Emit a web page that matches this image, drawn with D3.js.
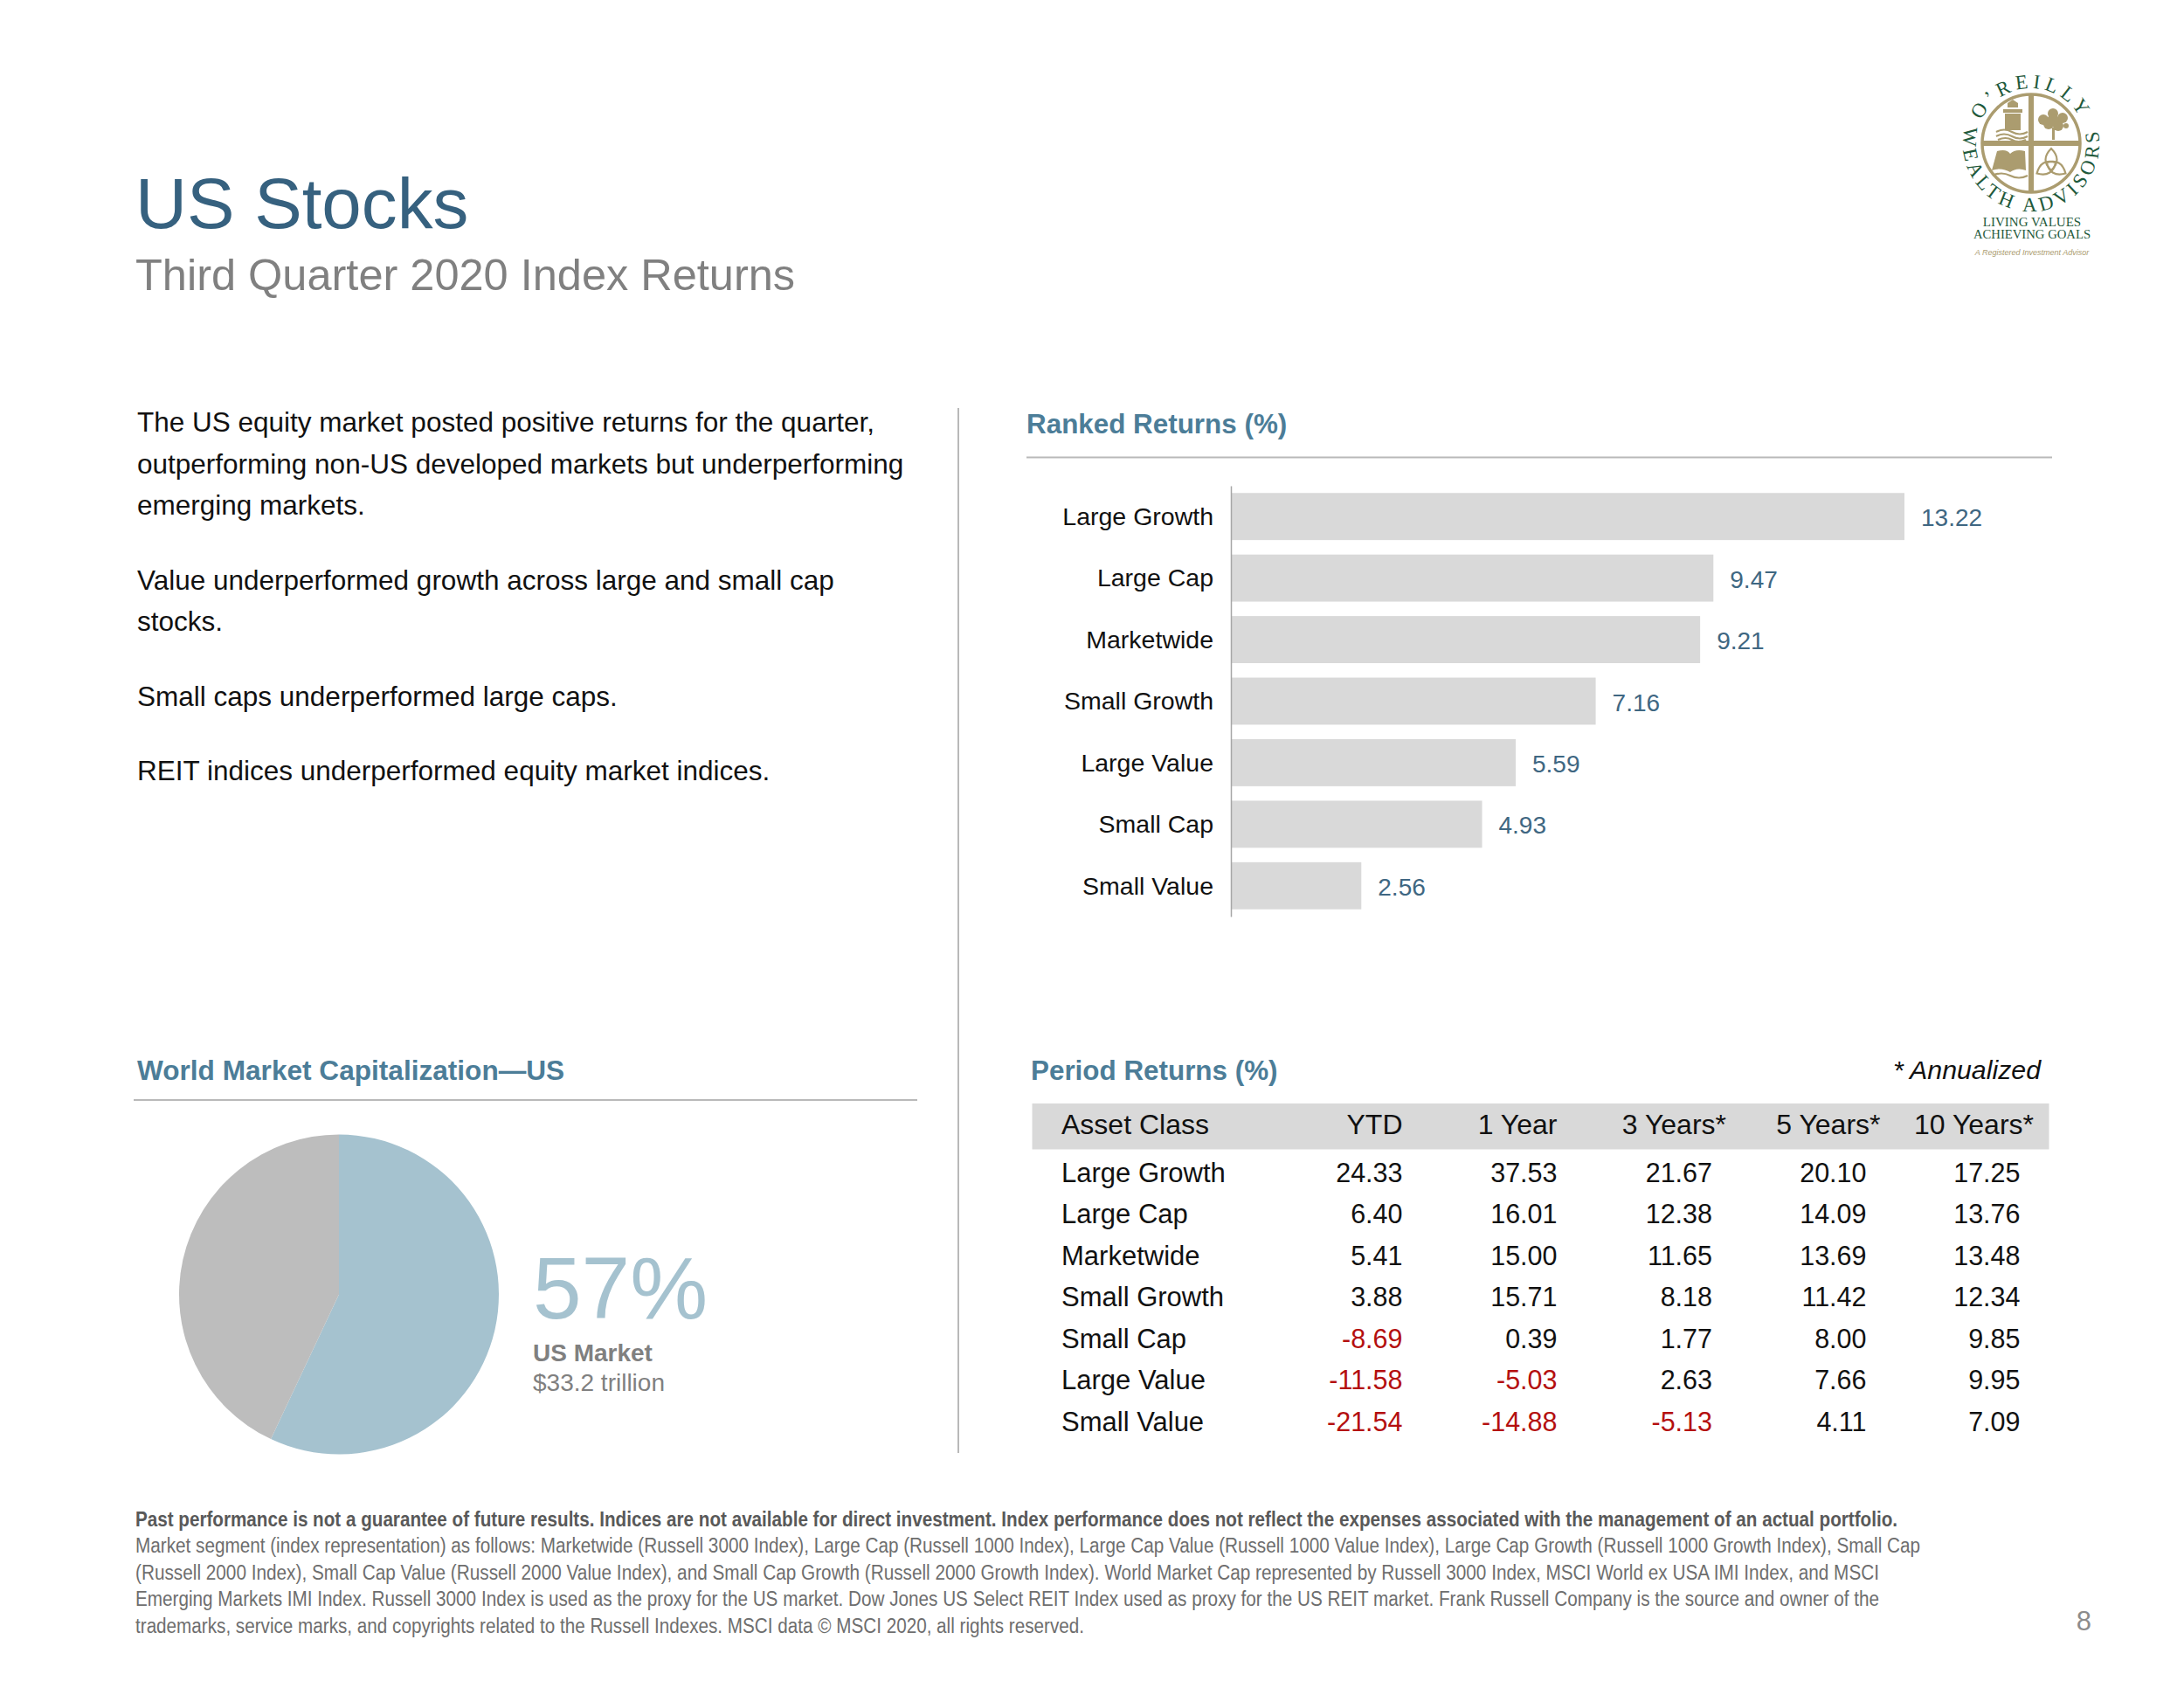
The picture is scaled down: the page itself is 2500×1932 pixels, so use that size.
<!DOCTYPE html>
<html>
<head>
<meta charset="utf-8">
<title>US Stocks</title>
<script src="https://cdn.jsdelivr.net/npm/d3@7"></script>
<style>
html, body { margin: 0; padding: 0; background: #fff; }
svg { display: block; }
text { font-family: "Liberation Sans", Arial, sans-serif; }
</style>
</head>
<body>
<div id="chart"></div>
<script>
// ranked bars
var ranked_labels = ["Large Growth", "Large Cap", "Marketwide", "Small Growth", "Large Value", "Small Cap", "Small Value"];
var ranked_values = [13.22, 9.47, 9.21, 7.16, 5.59, 4.93, 2.56];

// period table
var table_headers = ["YTD", "1 Year", "3 Years*", "5 Years*", "10 Years*"];
var table_rows = ["Large Growth", "Large Cap", "Marketwide", "Small Growth", "Small Cap", "Large Value", "Small Value"];
var ytd_values = ["24.33", "6.40", "5.41", "3.88", "-8.69", "-11.58", "-21.54"];
var one_year_values = ["37.53", "16.01", "15.00", "15.71", "0.39", "-5.03", "-14.88"];
var three_year_values = ["21.67", "12.38", "11.65", "8.18", "1.77", "2.63", "-5.13"];
var five_year_values = ["20.10", "14.09", "13.69", "11.42", "8.00", "7.66", "4.11"];
var ten_year_values = ["17.25", "13.76", "13.48", "12.34", "9.85", "9.95", "7.09"];

// pie
var pie_labels = ["US Market", "Rest of World"];
var pie_values = [57, 43];

var body_lines = [
  ["The US equity market posted positive returns for the quarter,", 494],
  ["outperforming non-US developed markets but underperforming", 541.5],
  ["emerging markets.", 589],
  ["Value underperformed growth across large and small cap", 675],
  ["stocks.", 722],
  ["Small caps underperformed large caps.", 807.5],
  ["REIT indices underperformed equity market indices.", 892.5]
];

var foot_lines = [
  ["Past performance is not a guarantee of future results. Indices are not available for direct investment. Index performance does not reflect the expenses associated with the management of an actual portfolio.", 2017, true],
  ["Market segment (index representation) as follows: Marketwide (Russell 3000 Index), Large Cap (Russell 1000 Index), Large Cap Value (Russell 1000 Value Index), Large Cap Growth (Russell 1000 Growth Index), Small Cap", 2043, false],
  ["(Russell 2000 Index), Small Cap Value (Russell 2000 Value Index), and Small Cap Growth (Russell 2000 Growth Index). World Market Cap represented by Russell 3000 Index, MSCI World ex USA IMI Index, and MSCI", 1996, false],
  ["Emerging Markets IMI Index. Russell 3000 Index is used as the proxy for the US market. Dow Jones US Select REIT Index used as proxy for the US REIT market. Frank Russell Company is the source and owner of the", 1996, false],
  ["trademarks, service marks, and copyrights related to the Russell Indexes. MSCI data \u00A9 MSCI 2020, all rights reserved.", 1086, false]
];

var blue_title = "#36617f", blue_head = "#4c7d98", pie_blue = "#a5c2cf", pie_grey = "#bdbdbd";
var rule_col = "#b9b9b9", bar_col = "#d9d9d9", grey_text = "#808080", red_text = "#b40f0f";

var svg = d3.select("#chart").append("svg").attr("width", 2500).attr("height", 1932);

function label(x, y, str, size, col, opts) {
  opts = opts || {};
  return svg.append("text").attr("x", x).attr("y", y).text(str)
    .attr("font-size", size).attr("fill", col)
    .attr("font-weight", opts.weight || "normal")
    .attr("font-style", opts.style || "normal")
    .attr("text-anchor", opts.anchor || "start");
}
function rule(x1, y1, x2, y2) {
  svg.append("line").attr("x1", x1).attr("y1", y1).attr("x2", x2).attr("y2", y2)
    .attr("stroke", rule_col).attr("stroke-width", 2);
}

// header
label(155, 261, "US Stocks", 81.7, blue_title);
label(155, 332, "Third Quarter 2020 Index Returns", 50.5, grey_text);

// left copy
body_lines.forEach(function (l) { label(157, l[1], l[0], 31.5, "#111"); });

rule(1097, 467, 1097, 1663);

// ranked returns
label(1175, 496, "Ranked Returns (%)", 31.4, blue_head, {weight: "bold"});
rule(1175, 523.5, 2349, 523.5);

var bar_x = d3.scaleLinear().domain([0, 13.22]).range([1409, 2180]);
var bar_y = d3.scaleBand().domain(ranked_labels).range([556, 1049]).paddingInner(0.235).paddingOuter(0.117);

svg.selectAll("rect.bar").data(ranked_values).enter().append("rect")
  .attr("class", "bar")
  .attr("x", bar_x(0))
  .attr("y", function (d, i) { return bar_y(ranked_labels[i]); })
  .attr("width", function (d) { return bar_x(d) - bar_x(0); })
  .attr("height", bar_y.bandwidth())
  .attr("fill", bar_col);

var bar_axis = svg.append("g").attr("transform", "translate(" + bar_x(0) + ",0)")
  .call(d3.axisLeft(bar_y).tickSize(0).tickPadding(20));
bar_axis.select(".domain").attr("stroke", "#a6a6a6").attr("stroke-width", 1.5);
bar_axis.selectAll("text").attr("font-size", 28.5).attr("fill", "#111")
  .attr("font-family", "Liberation Sans").attr("dy", "0.34em");

svg.selectAll("text.barval").data(ranked_values).enter().append("text")
  .attr("class", "barval")
  .attr("x", function (d) { return bar_x(d) + 19; })
  .attr("y", function (d, i) { return bar_y(ranked_labels[i]) + bar_y.bandwidth() / 2 + 11; })
  .attr("font-size", 28).attr("fill", "#3f6782")
  .text(function (d) { return d.toFixed(2); });

// world market cap pie
label(157, 1236, "World Market Capitalization\u2014US", 31.6, blue_head, {weight: "bold"});
rule(153, 1259, 1050, 1259);

var pie = d3.pie().sort(null);
var arc = d3.arc().innerRadius(0).outerRadius(183);
svg.append("g").attr("transform", "translate(388,1481.5)")
  .selectAll("path").data(pie(pie_values)).enter().append("path")
  .attr("d", arc)
  .attr("fill", function (d, i) { return i == 0 ? pie_blue : pie_grey; });

label(610, 1509, pie_values[0] + "%", 100, pie_blue);
label(610, 1558, pie_labels[0], 28, grey_text, {weight: "bold"});
label(610, 1592, "$33.2 trillion", 28, grey_text);

// period returns table
label(1180, 1236, "Period Returns (%)", 31.4, blue_head, {weight: "bold"});
label(2336, 1235, "* Annualized", 30.3, "#111", {style: "italic", anchor: "end"});

svg.append("rect").attr("x", 1181.5).attr("y", 1263).attr("width", 1164).attr("height", 52.5).attr("fill", bar_col);
label(1215, 1297.5, "Asset Class", 32, "#111");

var table_cols = [ytd_values, one_year_values, three_year_values, five_year_values, ten_year_values];
var col_right = [1605.5, 1782.5, 1960, 2136.5, 2312.5];
var head_right = [1605.5, 1782.5, 1976, 2152.5, 2328];
var row_y = d3.scalePoint().domain(table_rows).range([1352.5, 1637.5]);

table_headers.forEach(function (h, i) { label(head_right[i], 1297.5, h, 32, "#111", {anchor: "end"}); });
table_rows.forEach(function (r) { label(1215, row_y(r), r, 31, "#111"); });
table_cols.forEach(function (col, c) {
  col.forEach(function (v, i) {
    label(col_right[c], row_y(table_rows[i]), v, 30.5, v[0] == "-" ? red_text : "#111", {anchor: "end"});
  });
});

// footnotes
foot_lines.forEach(function (l, i) {
  label(155, 1746.5 + i * 30.5, l[0], 23, i == 0 ? "#595959" : "#6e6e6e", {weight: l[2] ? "bold" : "normal"})
    .attr("textLength", l[1]).attr("lengthAdjust", "spacingAndGlyphs");
});
label(2394, 1866, "8", 31, "#8c8c8c", {anchor: "end"});

// logo
var tan = "#ab9c6f", logo_green = "#1f5a3c";
var logo = svg.append("g").attr("transform", "translate(2325,164)");
logo.append("circle").attr("r", 56).attr("fill", "none").attr("stroke", tan).attr("stroke-width", 3.5);
logo.append("rect").attr("x", -3).attr("y", -56).attr("width", 6).attr("height", 112).attr("fill", tan);
logo.append("rect").attr("x", -56).attr("y", -3).attr("width", 112).attr("height", 6).attr("fill", tan);

// lighthouse
logo.append("path").attr("fill", tan).attr("d",
  "M-27,-46 L-21,-50 L-15,-46 L-15,-41 L-27,-41 Z M-32,-39 L-10,-39 L-10,-35 L-32,-35 Z M-30,-34 L-12,-34 L-12,-15 L-30,-15 Z");
logo.append("path").attr("fill", "none").attr("stroke", tan).attr("stroke-width", 2.2).attr("d",
  "M-40,-13 q9,-5 18,0 t18,0 M-40,-8 q9,-5 18,0 t18,0 M-38,-4 q9,-4 16,0 t16,0");
// tree
logo.append("g").attr("fill", tan).selectAll("circle")
  .data([[14, -27, 6], [25, -34, 6], [36, -29, 6], [20, -22, 6], [31, -20, 6], [25, -26, 7], [40, -20, 3]])
  .enter().append("circle").attr("cx", function (d) { return d[0]; }).attr("cy", function (d) { return d[1]; }).attr("r", function (d) { return d[2]; });
logo.append("rect").attr("x", 24).attr("y", -18).attr("width", 3).attr("height", 14).attr("fill", tan);
// book
logo.append("path").attr("fill", tan).attr("d",
  "M-45,31 L-39,9 Q-28,6 -24,12 Q-18,6 -7,9 L-6,31 Q-16,27 -24,33 Q-34,27 -45,31 Z");
logo.append("path").attr("fill", "none").attr("stroke", tan).attr("stroke-width", 2.2).attr("d",
  "M-44,37 q10,-5 20,0 t20,0");
// knot
logo.append("g").selectAll("path").data([0, 120, 240]).enter().append("path")
  .attr("fill", "none").attr("stroke", tan).attr("stroke-width", 2.2)
  .attr("transform", function (d) { return "translate(23,25) rotate(" + d + ")"; })
  .attr("d", "M0,-19 Q13,-6 0,6 Q-13,-6 0,-19 Z");

logo.append("path").attr("id", "logo_top").attr("fill", "none").attr("d", "M-63,0 A63,63 0 0 1 63,0");
logo.append("path").attr("id", "logo_bot").attr("fill", "none").attr("d", "M-74,-24.6 A78,78 0 1 0 74,-24.6");
logo.append("text").attr("font-size", 23).attr("fill", logo_green).attr("text-anchor", "middle")
  .attr("letter-spacing", 5).style("font-family", "'Liberation Serif'")
  .append("textPath").attr("href", "#logo_top").attr("startOffset", "50%").text("O\u2019REILLY");
logo.append("text").attr("font-size", 23).attr("fill", logo_green).attr("text-anchor", "middle")
  .attr("letter-spacing", 4.5).style("font-family", "'Liberation Serif'")
  .append("textPath").attr("href", "#logo_bot").attr("startOffset", "50%").text("WEALTH ADVISORS");

[["LIVING VALUES", 95, 15, logo_green, "normal"], ["ACHIEVING GOALS", 109, 14.7, logo_green, "normal"], ["A Registered Investment Advisor", 128, 9, tan, "italic"]]
  .forEach(function (t) {
    logo.append("text").attr("x", 1).attr("y", t[1]).attr("text-anchor", "middle")
      .attr("font-size", t[2]).attr("fill", t[3]).attr("font-style", t[4])
      .style("font-family", t[4] == "italic" ? "'Liberation Sans'" : "'Liberation Serif'").text(t[0]);
  });
</script>
</body>
</html>
